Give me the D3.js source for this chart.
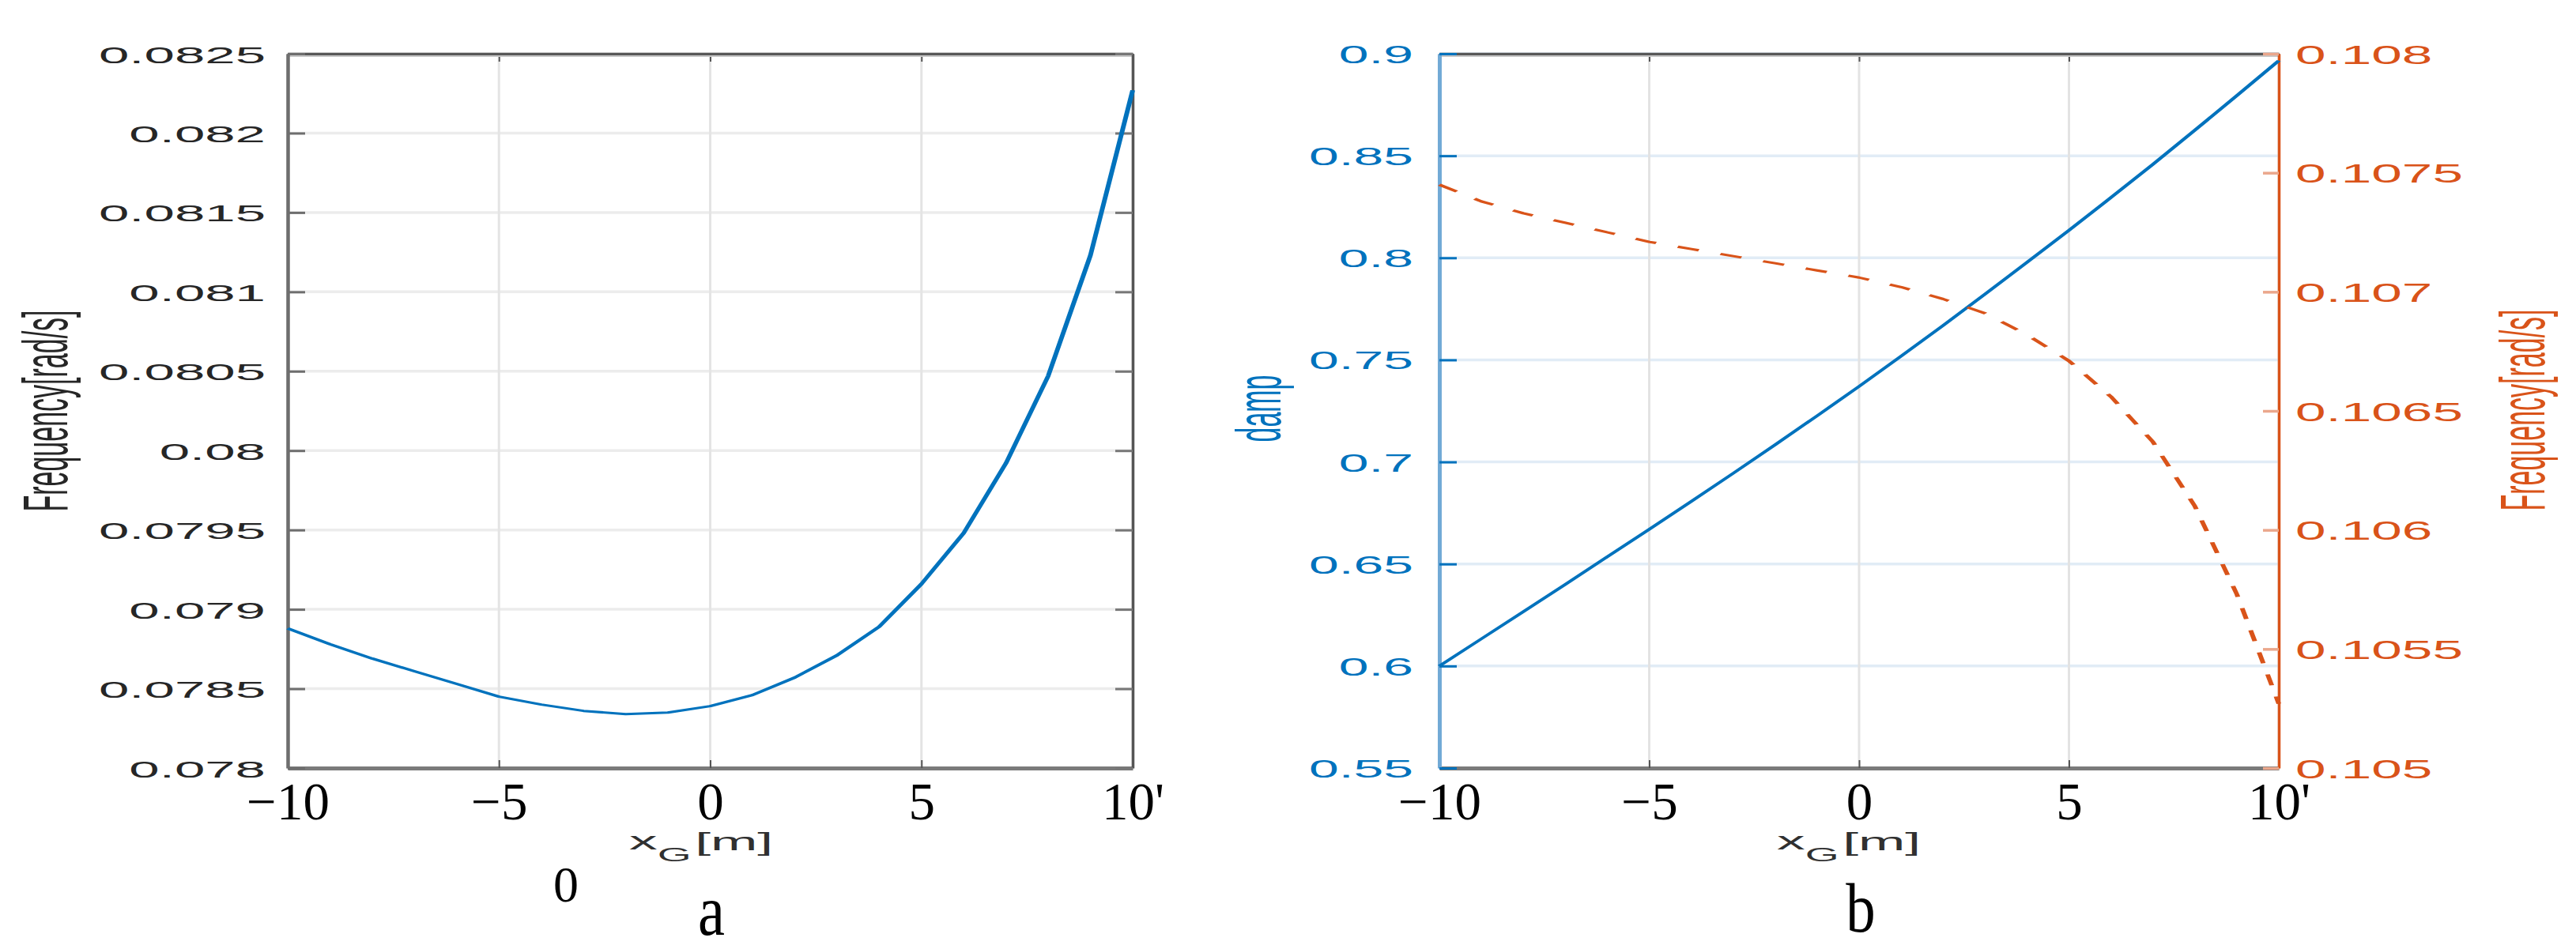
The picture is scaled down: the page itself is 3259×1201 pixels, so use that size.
<!DOCTYPE html>
<html>
<head>
<meta charset="utf-8">
<script src="https://cdn.jsdelivr.net/npm/d3@7"></script>
<style>
  html, body { margin: 0; padding: 0; background: #ffffff; }
  svg { display: block; }
</style>
</head>
<body>
<svg id="chart" width="3259" height="1201"></svg>
<script>
// ---------------- data ----------------
const xG = [-10,-9,-8,-7,-6,-5,-4,-3,-2,-1,0,1,2,3,4,5,6,7,8,9,10];
// panel a : Frequency [rad/s]
const freqA = [0.07888,0.07878,0.07869,0.07861,0.07853,0.07845,0.07840,0.07836,0.07834,0.07835,
               0.07839,0.07846,0.07857,0.07871,0.07889,0.07916,0.07948,0.07992,0.08047,0.08123,0.08227];
// panel b : damp (left axis) and Frequency (right axis)
const dampB = [0.6000,0.6133,0.6266,0.6400,0.6535,0.6670,0.6806,0.6944,0.7084,0.7226,
               0.7370,0.7518,0.7668,0.7822,0.7978,0.8135,0.8295,0.8458,0.8625,0.8795,0.8966];
const freqB = [0.10745,0.10738,0.10733,0.10729,0.10725,0.10721,0.10718,0.10715,0.10712,0.10709,
               0.10706,0.10702,0.10697,0.10691,0.10682,0.10671,0.10656,0.10637,0.10610,0.10573,0.10527];

const xTicks = [-10,-5,0,5,10];
const xTickLabels = ["\u221210","\u22125","0","5","10'"];
const yTicksA = [0.078,0.0785,0.079,0.0795,0.08,0.0805,0.081,0.0815,0.082,0.0825];
const yTickLabelsA = ["0.078","0.0785","0.079","0.0795","0.08","0.0805","0.081","0.0815","0.082","0.0825"];
const yTicksBL = [0.55,0.6,0.65,0.7,0.75,0.8,0.85,0.9];
const yTickLabelsBL = ["0.55","0.6","0.65","0.7","0.75","0.8","0.85","0.9"];
const yTicksBR = [0.105,0.1055,0.106,0.1065,0.107,0.1075,0.108];
const yTickLabelsBR = ["0.105","0.1055","0.106","0.1065","0.107","0.1075","0.108"];

// ---------------- layout ----------------
const SANS = "'Liberation Sans', Arial, Helvetica, sans-serif";
const SERIF = "'Liberation Serif', 'Times New Roman', serif";
const K = 2; // horizontal stretch of the original figure (used for the data lines)
const A = {l: 364, r: 1433, t: 68, b: 972};
const B = {l: 1821, r: 2883, t: 68, b: 972};
const BLUE = "#0072BD", ORANGE = "#D95319";

const svg = d3.select("#chart");

const xA = d3.scaleLinear().domain([-10, 10]).range([A.l, A.r]);
const yA = d3.scaleLinear().domain([0.078, 0.0825]).range([A.b, A.t]);
const xB = d3.scaleLinear().domain([-10, 10]).range([B.l, B.r]);
const yBL = d3.scaleLinear().domain([0.55, 0.9]).range([B.b, B.t]);
const yBR = d3.scaleLinear().domain([0.105, 0.108]).range([B.b, B.t]);

// ---------------- grids ----------------
function grid(P, xs, ys, yTicks, hColor, vColor) {
  const g = svg.append("g");
  g.selectAll("line.h").data(yTicks).join("line").attr("class", "h")
    .attr("x1", P.l).attr("x2", P.r).attr("y1", d => ys(d)).attr("y2", d => ys(d))
    .attr("stroke", hColor).attr("stroke-width", 3.5);
  g.selectAll("line.v").data(xTicks).join("line").attr("class", "v")
    .attr("x1", d => xs(d)).attr("x2", d => xs(d)).attr("y1", P.t).attr("y2", P.b)
    .attr("stroke", vColor).attr("stroke-width", 3);
}
grid(A, xA, yA, yTicksA, "#ececec", "#e4e4e4");
grid(B, xB, yBL, yTicksBL, "#e1ecf6", "#e3e3e3");

// ---------------- axes helpers ----------------
function styleAxis(g, domainColor, domainWidth, tickColor, tickWidth) {
  g.select(".domain").attr("stroke", domainColor).attr("stroke-width", domainWidth);
  g.selectAll(".tick line").attr("stroke", tickColor).attr("stroke-width", tickWidth);
}
function xAxes(P, xs) {
  const bottom = svg.append("g").attr("transform", `translate(0,${P.b})`)
    .call(d3.axisBottom(xs).tickValues(xTicks).tickSize(-10).tickSizeOuter(0)
      .tickFormat((d, i) => xTickLabels[i]));
  styleAxis(bottom, "#7a7a7a", 5, "#555", 2);
  bottom.selectAll("text").attr("y", 65).attr("dy", null)
    .attr("font-family", SERIF).attr("font-size", 67).attr("fill", "#000");
  const top = svg.append("g").attr("transform", `translate(0,${P.t})`)
    .call(d3.axisTop(xs).tickValues(xTicks).tickSize(-10).tickSizeOuter(0).tickFormat(""));
  styleAxis(top, "#585858", 3.5, "#555", 2);
  svg.append("line").attr("x1", P.l).attr("x2", P.r)
    .attr("y1", P.t + 3).attr("y2", P.t + 3).attr("stroke", "#c6c6c6").attr("stroke-width", 2);
}

// ---------------- panel a axes ----------------
xAxes(A, xA);
const aL = svg.append("g").attr("transform", `translate(${A.l},0)`)
  .call(d3.axisLeft(yA).tickValues(yTicksA).tickSize(-22).tickSizeOuter(0)
    .tickFormat((d, i) => yTickLabelsA[i]));
styleAxis(aL, "#6e6e6e", 4.5, "#6e6e6e", 3);
aL.selectAll("text").attr("x", null).attr("dy", null)
  .attr("font-family", SANS).attr("font-size", 30).attr("fill", "#262626")
  .attr("text-anchor", "end").attr("transform", "translate(-28,11) scale(2.3,1)");
const aR = svg.append("g").attr("transform", `translate(${A.r},0)`)
  .call(d3.axisRight(yA).tickValues(yTicksA).tickSize(-22).tickSizeOuter(0).tickFormat(""));
styleAxis(aR, "#555", 3.5, "#777", 3);

// ---------------- panel b axes ----------------
xAxes(B, xB);
const bL = svg.append("g").attr("transform", `translate(${B.l},0)`)
  .call(d3.axisLeft(yBL).tickValues(yTicksBL).tickSize(-22).tickSizeOuter(0)
    .tickFormat((d, i) => yTickLabelsBL[i]));
styleAxis(bL, "#72aad6", 5, BLUE, 3);
bL.selectAll("text").attr("x", null).attr("dy", null)
  .attr("font-family", SANS).attr("font-size", 32).attr("fill", BLUE)
  .attr("text-anchor", "end").attr("transform", "translate(-33,11.5) scale(2.12,1)");
const bR = svg.append("g").attr("transform", `translate(${B.r},0)`)
  .call(d3.axisRight(yBR).tickValues(yTicksBR).tickSize(-20).tickSizeOuter(0)
    .tickFormat((d, i) => yTickLabelsBR[i]));
styleAxis(bR, ORANGE, 3.5, "#eba78c", 3.5);
bR.selectAll("text").attr("x", null).attr("dy", null)
  .attr("font-family", SANS).attr("font-size", 33).attr("fill", ORANGE)
  .attr("text-anchor", "start").attr("transform", "translate(21,12) scale(2.1,1)");

// ---------------- data lines (drawn in the un-stretched space, then stretched) ----------------
const lines = svg.append("g").attr("transform", `scale(${K},1)`);
const xAs = d3.scaleLinear().domain([-10, 10]).range([A.l / K, A.r / K]);
const xBs = d3.scaleLinear().domain([-10, 10]).range([B.l / K, B.r / K]);

lines.append("path").datum(freqA)
  .attr("d", d3.line().x((d, i) => xAs(xG[i])).y(d => yA(d)))
  .attr("fill", "none").attr("stroke", BLUE).attr("stroke-width", 3)
  .attr("stroke-linejoin", "round");
lines.append("path").datum(dampB)
  .attr("d", d3.line().x((d, i) => xBs(xG[i])).y(d => yBL(d)))
  .attr("fill", "none").attr("stroke", BLUE).attr("stroke-width", 2.8)
  .attr("stroke-linejoin", "round");
lines.append("path").datum(freqB)
  .attr("d", d3.line().x((d, i) => xBs(xG[i])).y(d => yBR(d)))
  .attr("fill", "none").attr("stroke", ORANGE).attr("stroke-width", 3)
  .attr("stroke-dasharray", "14,14.5").attr("stroke-linejoin", "round");

// ---------------- axis titles ----------------
function rotLabel(x, y, txt, color) {
  svg.append("text").attr("transform", `translate(${x},${y}) scale(2.35,1) rotate(-90)`)
    .attr("text-anchor", "middle").attr("font-family", SANS).attr("font-size", 34)
    .attr("fill", color).text(txt);
}
rotLabel(85, 520, "Frequency[rad/s]", "#262626");
rotLabel(1620, 517, "damp", BLUE);
rotLabel(3219, 519, "Frequency[rad/s]", ORANGE);

function xLabel(x) {
  const t = svg.append("text").attr("transform", `translate(${x},1075) scale(2.3,1)`)
    .attr("font-family", SANS).attr("font-size", 31).attr("fill", "#303030");
  t.append("tspan").text("x");
  t.append("tspan").attr("dy", 15).attr("font-size", 24).text("G");
  t.append("tspan").attr("dy", -14).attr("dx", 2).text("[m]");
}
xLabel(796);
xLabel(2248);

// ---------------- captions ----------------
svg.append("text").attr("x", 716).attr("y", 1141).attr("text-anchor", "middle")
  .attr("font-family", SERIF).attr("font-size", 64).attr("fill", "#000").text("0");
svg.append("text").attr("transform", "translate(900,1183) scale(0.85,1)").attr("text-anchor", "middle")
  .attr("font-family", SERIF).attr("font-size", 90).attr("fill", "#000").text("a");
svg.append("text").attr("transform", "translate(2354,1179) scale(0.85,1)").attr("text-anchor", "middle")
  .attr("font-family", SERIF).attr("font-size", 88).attr("fill", "#000").text("b");
</script>
</body>
</html>
